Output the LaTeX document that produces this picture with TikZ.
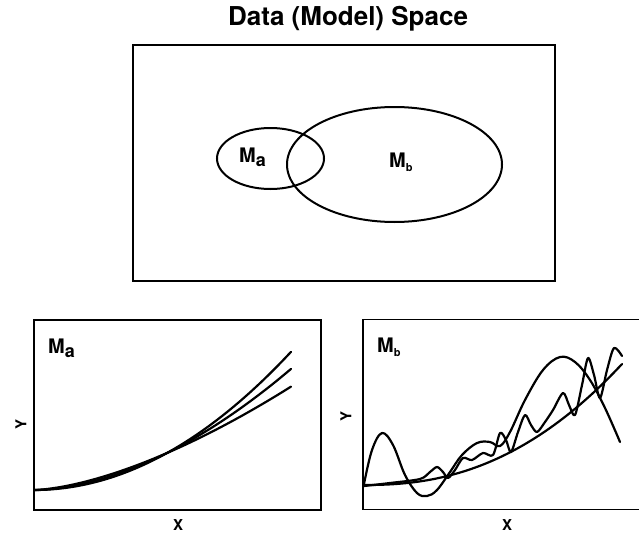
\documentclass[tikz,border=0pt]{standalone}
\usepackage{fontspec}
\setmainfont{TeX Gyre Heros}
\usetikzlibrary{positioning,shapes.geometric}
\newcommand{\modsub}[3]{\raisebox{-#2}{\fontsize{#1}{#1}\selectfont #3}}

\begin{document}
\begin{tikzpicture}[
  x=1pt, y=-1pt,
  panel/.style={draw, line width=1.8pt, inner sep=0pt},
  region/.style={draw, ellipse, line width=2pt, inner sep=0pt},
  fitcurve/.style={line width=2.2pt, line join=round, line cap=round},
  title/.style={font=\fontsize{26}{30}\selectfont\bfseries, inner sep=0pt, anchor=base},
  mlabel/.style={font=\fontsize{20}{22}\selectfont\bfseries, inner sep=0pt, anchor=base west},
  axlabel/.style={font=\fontsize{15}{17}\selectfont\bfseries, inner sep=0pt}
]
  \useasboundingbox (0,0) rectangle (639,535);

  % data space with the two model regions
  \node[panel, minimum width=422pt, minimum height=236pt] (space) at (344,163) {};
  \node[title] (ttl) at (348,26) {Data (Model) Space};
  \node[region, minimum width=107pt, minimum height=61pt] (rega) at (270.5,158.5) {};
  \node[region, minimum width=215pt, minimum height=115pt] (regb) at (394.5,164.5) {};
  \node[mlabel] (la) at (239,162) {M\modsub{18}{4pt}{a}};
  \node[mlabel] (lb) at (389,167) {M\modsub{11}{4pt}{b}};

  % panel for model a
  \node[panel, minimum width=287pt, minimum height=190pt] (pa) at (177.5,415) {};
  \node[mlabel] (pla) at (48,353) {M\modsub{18}{4pt}{a}};
  \node[axlabel, rotate=90] (ya) at (21,424) {Y};
  \node[axlabel] (xa) at (178,525) {X};
  \foreach \p in {2,1.8,1.56}
    \draw[fitcurve] plot[domain=34.5:291, samples=60] (\x,{490-37*((\x-34)/133)^\p});

  % panel for model b
  \node[panel, minimum width=279pt, minimum height=190pt] (pb) at (502.5,414.5) {};
  \node[mlabel] (plb) at (377,352) {M\modsub{11}{4pt}{b}};
  \node[axlabel, rotate=90] (yb) at (346,416) {Y};
  \node[axlabel] (xb) at (507,525) {X};
  \draw[fitcurve] plot[domain=364.5:622, samples=50] (\x,{485-121*((\x-364)/258)^2.3});
  \draw[fitcurve] plot[smooth, tension=0.6] coordinates {
    (364,484) (372,450) (382,433) (393,445) (405,475) (417,493) (427,496)
    (437,490) (450,472) (462,455) (477,443) (490,442) (500,446) (510,432)
    (525,400) (543,370) (560,357) (575,362) (590,380) (605,408) (620,442)};
  \draw[fitcurve] plot[smooth, tension=0.5] coordinates {
    (364,486) (390,483) (420,479) (430,472) (437,467) (443,472) (448,478)
    (455,470) (463,458) (472,460) (483,453) (493,455) (500,433) (506,440)
    (511,452) (518,432) (525,415) (531,425) (537,432) (545,422) (553,410)
    (563,393) (569,405) (575,415) (582,385) (588,358) (594,375) (600,398)
    (607,370) (614,348) (622,356)};
\end{tikzpicture}
\end{document}
